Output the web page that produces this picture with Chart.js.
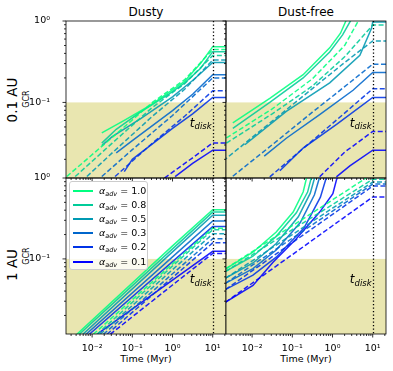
<!DOCTYPE html>
<html>
<head>
<meta charset="utf-8">
<script src="https://cdn.jsdelivr.net/npm/chart.js@4.4.0/dist/chart.umd.min.js"></script>
<style>
  body { margin: 0; background: #fff; }
  #wrap { position: relative; width: 393px; height: 371px; overflow: hidden; font-family: 'DejaVu Sans', sans-serif; color: #000; }
  #wrap canvas { position: absolute; left: 0; top: 0; }
  .lbl { position: absolute; white-space: nowrap; transform: translate(-50%, -50%); }
  .rot { transform: translate(-50%, -50%) rotate(-90deg); }
  #legend { position: absolute; left: 69px; top: 181px; width: 79px; height: 89px; box-sizing: border-box;
            border: 1px solid #ccc; border-radius: 3px; background: rgba(255,255,255,0.8); }
  .row { position: absolute; left: 0; height: 14px; width: 100%; font-size: 9.5px; line-height: 14px; }
  .row .swatch { position: absolute; left: 3px; top: 6px; width: 20px; height: 2px; }
  .row .txt { position: absolute; left: 29px; top: 0; }
  .row sub { font-size: 6.5px; font-style: italic; vertical-align: -2px; line-height: 0; }
</style>
</head>
<body>
<div id="wrap">
  <div class="lbl" style="left:146px;top:12px;font-size:12px;">Dusty</div>
  <div class="lbl" style="left:306px;top:12px;font-size:12px;">Dust-free</div>
  <div class="lbl rot" style="left:12px;top:100px;font-size:13.5px;">0.1 AU</div>
  <div class="lbl rot" style="left:26px;top:99px;font-size:8px;">GCR</div>
  <div class="lbl rot" style="left:12px;top:265px;font-size:13.5px;">1 AU</div>
  <div class="lbl rot" style="left:26px;top:256px;font-size:8px;">GCR</div>
  <div class="lbl" style="left:146px;top:358px;font-size:9.5px;">Time (Myr)</div>
  <div class="lbl" style="left:306px;top:358px;font-size:9.5px;">Time (Myr)</div>
  <div id="legend"></div>
</div>
<script>
// advection efficiencies and their colours
const alphas = ['1.0', '0.8', '0.5', '0.3', '0.2', '0.1'];
const colors = ['#00ff80', '#00cc99', '#0099b2', '#0066cc', '#0033e6', '#0000ff'];

const xTicks = [0.01, 0.1, 1, 10];
const xTickLabels = ['10⁻²', '10⁻¹', '10⁰', '10¹'];
const yTicks = [0.1, 1];
const yTickLabels = ['10⁻¹', '10⁰'];
const tDisk = 10;       // Myr
const shadeLimit = 0.1; // GCR

// [time (Myr), GCR] per alpha, dusty disk at 0.1 AU
const dustyInnerSolid = [
  [[0.0174,0.0422],[0.0631,0.0603],[0.251,0.0891],[0.794,0.132],[2.0,0.182],[5.01,0.302],[10,0.484],[21.4,0.484]],
  [[0.0174,0.0316],[0.0398,0.0468],[0.158,0.0759],[0.794,0.126],[2.0,0.174],[5.01,0.263],[10,0.42],[21.4,0.42]],
  [[0.0174,0.0295],[0.0316,0.038],[0.158,0.063],[1,0.117],[3.16,0.186],[10,0.309],[21.4,0.309]],
  [[0.0398,0.024],[0.1,0.0339],[1,0.0794],[3.16,0.126],[10,0.219],[21.4,0.219]],
  [[0.0631,0.0141],[0.1,0.02],[1,0.0479],[3.16,0.0724],[10,0.115],[21.4,0.115]],
  [[1.16,0.0123],[3.16,0.0178],[10,0.0259],[21.4,0.0259]]
];
const dustyInnerDashed = [
  [[0.00234,0.0123],[0.0316,0.0372],[0.316,0.1],[2.0,0.19],[10,0.447],[21.4,0.447]],
  [[0.0038,0.0123],[0.0316,0.0316],[0.316,0.0871],[2.0,0.17],[10,0.376],[21.4,0.376]],
  [[0.00741,0.0123],[0.0316,0.024],[0.316,0.0676],[2.0,0.145],[10,0.331],[21.4,0.331]],
  [[0.0174,0.0123],[0.1,0.0263],[1,0.0692],[10,0.2],[21.4,0.2]],
  [[0.0372,0.0123],[0.316,0.0316],[2.0,0.0676],[10,0.139],[21.4,0.139]],
  [[0.631,0.0118],[3.16,0.0209],[10,0.0318],[21.4,0.0318]]
];

// dust-free disk at 0.1 AU
const freeInnerSolid = [
  [[0.00331,0.0562],[0.0275,0.112],[0.186,0.219],[0.851,0.468],[1.58,0.708],[2.24,1.05]],
  [[0.00331,0.0479],[0.0275,0.1],[0.186,0.2],[0.851,0.417],[1.78,0.676],[2.95,1.05]],
  [[0.0066,0.0302],[0.0708,0.0776],[0.851,0.174],[4.79,0.38],[9.33,0.813],[10,0.97],[21.4,0.97]],
  [[0.02,0.0219],[0.0708,0.0363],[0.479,0.0708],[3.24,0.141],[10,0.233],[21.4,0.233]],
  [[0.049,0.0145],[0.186,0.0275],[1.26,0.0537],[10,0.115],[21.4,0.115]],
  [[1.25,0.0122],[2.7,0.0166],[10,0.0259],[21.4,0.0259]]
];
const freeInnerDashed = [
  [[0.00229,0.0366],[0.0316,0.0832],[0.316,0.195],[2.0,0.5],[4.47,1.02]],
  [[0.00229,0.0316],[0.0316,0.0724],[0.316,0.159],[2.0,0.363],[10,0.89],[21.4,0.89]],
  [[0.0019,0.0191],[0.0316,0.0589],[0.316,0.148],[2.0,0.309],[10,0.57],[21.4,0.57]],
  [[0.00331,0.0124],[0.0316,0.0302],[0.316,0.0759],[2.0,0.156],[10,0.295],[21.4,0.295]],
  [[0.0275,0.0122],[0.316,0.034],[2.0,0.074],[10,0.147],[21.4,0.147]],
  [[0.479,0.0122],[2.0,0.0245],[10,0.044],[21.4,0.044]]
];

// dusty disk at 1 AU
const dustyOuterSolid = [
  [[0.00417,0.0117],[1,0.145],[10,0.405],[21.4,0.405]],
  [[0.00479,0.0117],[1,0.133],[10,0.379],[21.4,0.379]],
  [[0.00589,0.0117],[1,0.122],[10,0.347],[21.4,0.347]],
  [[0.00708,0.0117],[1,0.106],[10,0.295],[21.4,0.295]],
  [[0.00851,0.0117],[1,0.0927],[10,0.251],[21.4,0.251]],
  [[0.0132,0.0117],[1,0.0547],[10,0.124],[21.4,0.124]]
];
const dustyOuterDashed = [
  [[0.0107,0.0117],[1,0.0869],[10,0.24],[21.4,0.24]],
  [[0.0132,0.0117],[1,0.0817],[10,0.229],[21.4,0.229]],
  [[0.0158,0.0117],[1,0.0736],[10,0.204],[21.4,0.204]],
  [[0.0191,0.0117],[1,0.0655],[10,0.178],[21.4,0.178]],
  [[0.0234,0.0117],[1,0.0589],[10,0.158],[21.4,0.158]],
  [[0.0282,0.0117],[1,0.0476],[10,0.117],[21.4,0.117]]
];

// dust-free disk at 1 AU
const freeOuterSolid = [
  [[0.00219,0.0755],[0.0105,0.121],[0.0398,0.215],[0.105,0.379],[0.186,0.671],[0.229,1.03]],
  [[0.00219,0.07],[0.0105,0.108],[0.0398,0.19],[0.126,0.372],[0.24,0.67],[0.30,1.03]],
  [[0.00219,0.0578],[0.0105,0.0891],[0.0398,0.155],[0.141,0.331],[0.28,0.65],[0.363,1.03]],
  [[0.00219,0.0501],[0.0105,0.0759],[0.0398,0.129],[0.158,0.282],[0.355,0.62],[0.479,1.03]],
  [[0.00219,0.0419],[0.0105,0.0631],[0.0398,0.105],[0.2,0.245],[0.5,0.58],[0.708,1.03]],
  [[0.00219,0.0292],[0.0105,0.047],[0.0331,0.0912],[0.126,0.177],[0.479,0.379],[1.02,0.64],[1.26,0.955],[1.38,1.05]]
];
const freeOuterDashed = [
  [[0.00219,0.0755],[0.1,0.257],[1,0.537],[7.5,1.03]],
  [[0.00219,0.07],[0.1,0.23],[1,0.47],[10,0.964],[21.4,0.964]],
  [[0.00219,0.0578],[0.1,0.2],[1,0.423],[10,0.891],[21.4,0.891]],
  [[0.00219,0.0501],[0.1,0.18],[1,0.389],[10,0.841],[21.4,0.841]],
  [[0.00219,0.0419],[0.1,0.159],[1,0.355],[10,0.794],[21.4,0.794]],
  [[0.00219,0.0292],[0.1,0.113],[1,0.257],[10,0.582],[21.4,0.582]]
];

const xRange = [0.00224, 21.4];
const yRange = [0.0118, 1];
const FONT = 'DejaVu Sans';

function minorValues(lo, hi) {
  const out = [];
  for (let d = -4; d <= 2; d++) {
    for (let k = 2; k <= 9; k++) {
      const v = k * Math.pow(10, d);
      if (v > lo && v < hi) out.push(v);
    }
  }
  return out;
}

const panelDecor = {
  id: 'panelDecor',
  beforeDatasetsDraw(chart) {
    const { ctx, chartArea: a, scales: { y } } = chart;
    const yTop = y.getPixelForValue(shadeLimit);
    ctx.save();
    ctx.fillStyle = '#e9e6b0';
    ctx.fillRect(a.left, yTop, a.right - a.left, a.bottom - yTop);
    ctx.restore();
  },
  afterDatasetsDraw(chart) {
    const { ctx, chartArea: a, scales: { x, y } } = chart;
    const xd = Math.round(x.getPixelForValue(tDisk)) + 0.5;
    ctx.save();
    ctx.strokeStyle = '#000';
    ctx.lineWidth = 1.3;
    ctx.setLineDash([1.3, 2.2]);
    ctx.beginPath();
    ctx.moveTo(xd, a.top);
    ctx.lineTo(xd, a.bottom);
    ctx.stroke();
    ctx.setLineDash([]);
    // t_disk label
    const tx = x.getPixelForValue(2.7);
    const ty = y.getPixelForValue(0.05);
    ctx.fillStyle = '#000';
    ctx.textBaseline = 'alphabetic';
    ctx.font = 'italic 12px ' + FONT;
    ctx.fillText('t', tx, ty);
    const w = ctx.measureText('t').width;
    ctx.font = 'italic 8.5px ' + FONT;
    ctx.fillText('disk', tx + w, ty + 2.5);
    ctx.restore();
  },
  afterDraw(chart) {
    const { ctx, chartArea: a, scales: { x, y } } = chart;
    ctx.save();
    ctx.strokeStyle = '#000';
    ctx.lineWidth = 0.8;
    ctx.beginPath();
    xTicks.forEach(v => { const p = x.getPixelForValue(v); ctx.moveTo(p, a.bottom); ctx.lineTo(p, a.bottom + 3.5); });
    minorValues(xRange[0], xRange[1]).forEach(v => { const p = x.getPixelForValue(v); ctx.moveTo(p, a.bottom); ctx.lineTo(p, a.bottom + 2); });
    yTicks.forEach(v => { const p = y.getPixelForValue(v); ctx.moveTo(a.left, p); ctx.lineTo(a.left - 3.5, p); });
    minorValues(yRange[0], yRange[1]).forEach(v => { const p = y.getPixelForValue(v); ctx.moveTo(a.left, p); ctx.lineTo(a.left - 2, p); });
    ctx.stroke();
    ctx.strokeRect(a.left, a.top, a.right - a.left, a.bottom - a.top);
    ctx.restore();
  }
};

function buildSets(solid, dashed) {
  const sets = [];
  alphas.forEach((a, i) => {
    sets.push({
      label: 'alpha ' + a,
      data: solid[i].map(p => ({ x: p[0], y: p[1] })),
      borderColor: colors[i] + 'e0',
      borderWidth: 1.5,
      pointRadius: 0,
      showLine: true,
      fill: false
    });
    sets.push({
      label: 'alpha ' + a + ' dashed',
      data: dashed[i].map(p => ({ x: p[0], y: p[1] })),
      borderColor: colors[i] + 'e0',
      borderWidth: 1.5,
      borderDash: [5, 2.5],
      pointRadius: 0,
      showLine: true,
      fill: false
    });
  });
  return sets;
}

function makePanel(solid, dashed, area, showY, showX) {
  const canvas = document.createElement('canvas');
  canvas.width = 393;
  canvas.height = 371;
  document.getElementById('wrap').insertBefore(canvas, document.getElementById('legend'));
  const yW = showY ? 40 : 0, xH = showX ? 25 : 0;
  return new Chart(canvas, {
    type: 'scatter',
    data: { datasets: buildSets(solid, dashed) },
    options: {
      responsive: false,
      animation: false,
      devicePixelRatio: 1,
      events: [],
      layout: {
        padding: {
          left: area.left - yW,
          top: area.top,
          right: 393 - area.right,
          bottom: 371 - area.bottom - xH
        }
      },
      plugins: { legend: { display: false }, tooltip: { enabled: false } },
      scales: {
        x: {
          type: 'logarithmic',
          min: xRange[0],
          max: xRange[1],
          display: showX,
          grid: { display: false },
          border: { display: false },
          afterBuildTicks: s => { s.ticks = xTicks.map(v => ({ value: v })); },
          afterFit: s => { s.height = xH; },
          ticks: {
            autoSkip: false, maxRotation: 0, minRotation: 0, padding: 1,
            color: '#000', font: { family: FONT, size: 9.5 },
            callback: v => { const i = xTicks.indexOf(v); return i >= 0 ? xTickLabels[i] : ''; }
          }
        },
        y: {
          type: 'logarithmic',
          min: yRange[0],
          max: yRange[1],
          display: showY,
          grid: { display: false },
          border: { display: false },
          afterBuildTicks: s => { s.ticks = yTicks.map(v => ({ value: v })); },
          afterFit: s => { s.width = yW; },
          ticks: {
            autoSkip: false, padding: 8,
            color: '#000', font: { family: FONT, size: 9.5 },
            callback: v => { const i = yTicks.indexOf(v); return i >= 0 ? yTickLabels[i] : ''; }
          }
        }
      }
    },
    plugins: [panelDecor]
  });
}

makePanel(dustyInnerSolid, dustyInnerDashed, { left: 66, top: 21, right: 226, bottom: 178 }, true, false);
makePanel(freeInnerSolid, freeInnerDashed, { left: 226, top: 21, right: 386, bottom: 178 }, false, false);
makePanel(dustyOuterSolid, dustyOuterDashed, { left: 66, top: 178, right: 226, bottom: 334 }, true, true);
makePanel(freeOuterSolid, freeOuterDashed, { left: 226, top: 178, right: 386, bottom: 334 }, false, true);

// legend built from the same alpha / colour arrays
const legend = document.getElementById('legend');
alphas.forEach((a, i) => {
  const row = document.createElement('div');
  row.className = 'row';
  row.style.top = Math.round(2 + i * 14.1) + 'px';
  row.innerHTML = '<span class="swatch" style="background:' + colors[i] + '"></span>' +
    '<span class="txt"><i>α</i><sub>adv</sub> = ' + a + '</span>';
  legend.appendChild(row);
});
</script>
</body>
</html>
